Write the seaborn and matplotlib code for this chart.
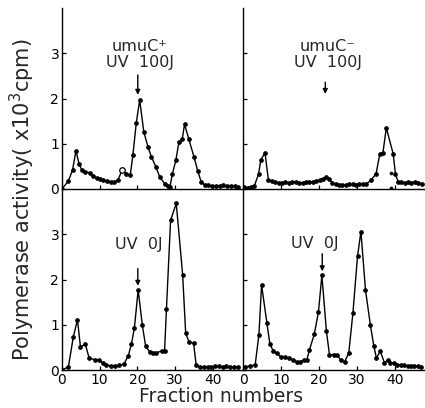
import matplotlib
matplotlib.use("Agg")
import matplotlib.pyplot as plt
import seaborn as sns
import pandas as pd

# ---- data (fraction number, activity x10^3 cpm) ----
tl_x = [0, 1.7, 2.8, 3.7, 4.5, 5.2, 6.1, 7.3, 8.3, 9.2, 10.1, 11.0, 12.0, 12.9, 13.8, 14.8,
        16.0, 17.1, 18.1, 18.8, 19.7, 20.6, 21.7, 22.8, 23.7, 24.9, 25.9, 27.2, 28.0, 28.6,
        29.3, 30.2, 31.0, 31.9, 32.5, 33.6, 35.0, 36.0, 36.9, 37.8, 38.8, 39.8, 40.8, 41.8,
        42.8, 43.8, 44.8, 45.8, 46.8]
tl_y = [0, 0.18, 0.42, 0.85, 0.56, 0.43, 0.38, 0.36, 0.29, 0.24, 0.21, 0.19, 0.17, 0.16, 0.15, 0.19,
        0.43, 0.34, 0.30, 0.75, 1.46, 1.97, 1.26, 0.93, 0.71, 0.49, 0.27, 0.12, 0.06, 0.04,
        0.34, 0.64, 1.03, 1.11, 1.43, 1.11, 0.71, 0.40, 0.16, 0.09, 0.08, 0.07, 0.07, 0.06,
        0.08, 0.07, 0.06, 0.06, 0.05]
tl_open_x = [16.0]
tl_open_y = [0.43]

tr_x = [0.3, 1.2, 2.1, 3.0, 4.1, 4.7, 5.8, 6.7, 7.6, 8.5, 9.4, 10.3, 11.2, 12.1, 13.0, 13.9,
        14.8, 15.7, 16.6, 17.5, 18.4, 19.3, 20.2, 21.1, 21.9, 22.7, 23.5, 24.4, 25.3, 26.2,
        27.1, 28.0, 28.9, 29.8, 30.7, 31.6, 32.5, 33.8, 35.1, 36.1, 36.9, 37.8, 39.6, 40.2,
        40.9, 41.7, 42.6, 43.5, 44.4, 45.3, 46.2, 47.1]
tr_y = [0.04, 0.03, 0.04, 0.07, 0.33, 0.64, 0.80, 0.20, 0.17, 0.15, 0.14, 0.14, 0.15, 0.14, 0.16, 0.15,
        0.13, 0.14, 0.15, 0.16, 0.15, 0.17, 0.20, 0.23, 0.26, 0.22, 0.14, 0.10, 0.08, 0.09,
        0.08, 0.10, 0.11, 0.09, 0.10, 0.11, 0.11, 0.20, 0.34, 0.78, 0.80, 1.35, 0.78, 0.34,
        0.16, 0.15, 0.14, 0.15, 0.14, 0.15, 0.13, 0.12]
tr_extra_x = [39.0, 39.0]
tr_extra_y = [0.36, 0.02]

bl_x = [0, 1.7, 3.0, 4.1, 4.9, 6.2, 7.2, 8.7, 9.9, 10.9, 11.8, 13.0, 14.0, 15.2, 16.4, 17.6,
        18.4, 19.2, 20.2, 21.3, 22.2, 23.3, 24.2, 25.0, 26.4, 27.2, 27.7, 28.8, 30.3, 32.0,
        32.8, 33.7, 34.9, 35.6, 36.6, 37.6, 38.6, 39.6, 40.6, 41.6, 42.6, 43.6, 44.6, 45.6, 46.6]
bl_y = [0, 0.07, 0.73, 1.11, 0.51, 0.57, 0.26, 0.23, 0.22, 0.15, 0.11, 0.09, 0.09, 0.10, 0.13, 0.32,
        0.57, 0.93, 1.77, 0.99, 0.52, 0.40, 0.37, 0.38, 0.42, 0.42, 1.35, 3.31, 3.68, 2.10,
        0.81, 0.62, 0.59, 0.10, 0.07, 0.07, 0.06, 0.07, 0.08, 0.08, 0.07, 0.08, 0.07, 0.06, 0.06]

br_x = [0.5, 1.9, 3.2, 4.2, 4.9, 6.3, 7.1, 8.0, 8.9, 10.0, 11.1, 12.2, 13.1, 14.2, 15.1, 16.0,
        16.8, 17.5, 18.8, 19.9, 20.8, 22.0, 22.8, 23.9, 24.8, 25.8, 26.8, 27.9, 29.0, 30.2,
        31.1, 32.3, 33.6, 34.5, 35.2, 36.2, 37.3, 38.2, 38.9, 39.8, 40.7, 41.6, 42.5, 43.4,
        44.3, 45.2, 46.1, 47.0]
br_y = [0.07, 0.09, 0.11, 0.78, 1.88, 1.04, 0.57, 0.42, 0.37, 0.29, 0.28, 0.26, 0.22, 0.18, 0.18, 0.22,
        0.21, 0.44, 0.79, 1.28, 2.09, 0.86, 0.34, 0.34, 0.33, 0.22, 0.18, 0.38, 1.27, 2.51,
        3.06, 1.77, 0.99, 0.53, 0.26, 0.42, 0.16, 0.22, 0.16, 0.15, 0.12, 0.10, 0.10, 0.09,
        0.09, 0.08, 0.08, 0.07]

y_ticks = [0, 1, 2, 3]
x_ticks = [0, 10, 20, 30, 40]
x_tick_labels = ["0", "10", "20", "30", "40"]

# text, text x, text bottom y, arrow x, arrow start y, arrow end y
panel_notes = {
    "tl": ("umuC\u207a\nUV  100J", 20.6, 2.62, 20.1, 2.52, 2.08),
    "tr": ("umuC\u207b\nUV  100J", 22.3, 2.62, 21.7, 2.36, 2.10),
    "bl": ("UV  0J", 20.4, 2.60, 20.1, 2.24, 1.86),
    "br": ("UV  0J", 19.0, 2.64, 20.9, 2.57, 2.18),
}

# ---- figure ----
sns.set_style("ticks")
plt.rcParams["font.family"] = ["DejaVu Sans"]
fig = plt.figure(figsize=(4.25, 4.08), dpi=100)

W, H = 425, 408
def rect(l, b, w, h):
    return [l / W, (H - b) / H, w / W, h / H]

ax_tl = fig.add_axes(rect(62, 189, 181, 181))
ax_tr = fig.add_axes(rect(243, 189, 182, 181))
ax_bl = fig.add_axes(rect(62, 370, 181, 181))
ax_br = fig.add_axes(rect(243, 370, 182, 181))

def draw(ax, xs, ys):
    df = pd.DataFrame({"f": xs, "v": ys})
    sns.lineplot(data=df, x="f", y="v", ax=ax, color="black", linewidth=1.0,
                 marker="o", markersize=2.6, markeredgecolor="black", sort=False)

draw(ax_tl, tl_x, tl_y)
draw(ax_tr, tr_x, tr_y)
draw(ax_bl, bl_x, bl_y)
draw(ax_br, br_x, br_y)
sns.scatterplot(x=tl_open_x, y=tl_open_y, ax=ax_tl, color="white", edgecolor="black",
                s=16, linewidth=0.9, zorder=5)
sns.scatterplot(x=tr_extra_x, y=tr_extra_y, ax=ax_tr, color="black", s=7, linewidth=0, zorder=5)

for key, ax in [("tl", ax_tl), ("tr", ax_tr), ("bl", ax_bl), ("br", ax_br)]:
    ax.set_xlim(0, 48)
    ax.set_ylim(0, 4)
    ax.set_xlabel("")
    ax.set_ylabel("")
    ax.patch.set_alpha(0)
    for s in ["top", "right"]:
        ax.spines[s].set_visible(False)
    for s in ["left", "bottom"]:
        ax.spines[s].set_linewidth(1.0)
        ax.spines[s].set_color("black")
    ax.set_yticks(y_ticks)
    ax.set_xticks(x_ticks)
    ax.tick_params(direction="in", length=3, width=0.9, colors="black", labelsize=10, pad=2)
    if key in ("tl", "bl"):
        ax.set_yticklabels([str(t) for t in y_ticks])
    else:
        ax.set_yticklabels([])
    if key in ("bl", "br"):
        ax.set_xticklabels(x_tick_labels)
    else:
        ax.set_xticklabels([])

    text, tx, ty, axx, y0, y1 = panel_notes[key]
    ax.text(tx, ty, text, ha="center", va="bottom", fontsize=11.5, linespacing=1.15)
    ax.annotate("", xy=(axx, y1), xytext=(axx, y0),
                arrowprops=dict(arrowstyle="-|>", color="black", lw=1.0,
                                mutation_scale=7, shrinkA=0, shrinkB=0))

fig.text(22 / W, (H - 200) / H, "Polymerase activity( x10$^3$cpm)", rotation=90,
         ha="center", va="center", fontsize=15)
fig.text(221 / W, 1.5 / H, "Fraction numbers", ha="center", va="bottom", fontsize=13.5)

fig.savefig("out.png", dpi=100)
